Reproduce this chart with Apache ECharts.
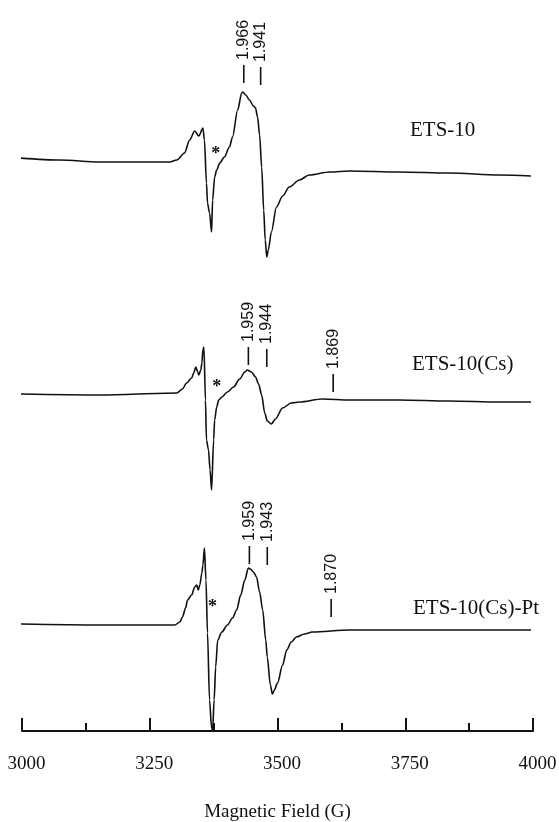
<!DOCTYPE html>
<html>
<head>
<meta charset="utf-8">
<script src="https://cdn.jsdelivr.net/npm/echarts@6/dist/echarts.min.js"></script>
<style>
  html, body { margin: 0; padding: 0; background: #fff; }
  #chart { width: 559px; height: 822px; }
</style>
</head>
<body>
<div id="chart"></div>
<script>
// X-band EPR spectra: derivative signal vs magnetic field (G)
const xTicks = [3000, 3250, 3500, 3750, 4000];

// ETS-10
const fieldA = [2996, 3074, 3152, 3230, 3289, 3303, 3318, 3328, 3338, 3346, 3354, 3357, 3361, 3363, 3367, 3371, 3373, 3377, 3381, 3387, 3396, 3406, 3412, 3422, 3430, 3432, 3438, 3445, 3453, 3457, 3461, 3465, 3469, 3473, 3476, 3479, 3482, 3488, 3498, 3510, 3523, 3543, 3562, 3602, 3641, 3738, 3836, 3934, 3996];
const signalA = [4, 2, 0, 0, 0, 2, 9, 22, 31, 26, 34, 22, -21, -41, -51, -70, -38, -15, -8, -1, 5, 15, 25, 52, 69, 70, 67, 62, 56, 54, 45, 27, -5, -48, -78, -95, -88, -70, -45, -34, -25, -18, -13, -10, -9, -10, -11, -13, -14];

// ETS-10(Cs)
const fieldB = [2996, 3152, 3303, 3314, 3322, 3332, 3336, 3340, 3344, 3346, 3350, 3352, 3354, 3356, 3359, 3361, 3365, 3368, 3371, 3375, 3377, 3381, 3385, 3391, 3402, 3414, 3426, 3436, 3441, 3449, 3457, 3463, 3469, 3475, 3480, 3488, 3496, 3510, 3527, 3543, 3588, 3641, 3738, 3836, 3934, 3996];
const signalB = [1, 0, 2, 6, 12, 17, 22, 28, 23, 20, 25, 32, 45, 48, -5, -45, -55, -75, -95, -45, -25, -12, -5, -2, 3, 8, 16, 23, 25, 23, 18, 11, 0, -18, -26, -29, -24, -13, -8, -7, -4, -5, -5, -6, -7, -7];

// ETS-10(Cs)-Pt
const fieldC = [2996, 3152, 3299, 3309, 3314, 3320, 3324, 3332, 3338, 3342, 3345, 3348, 3352, 3354, 3357, 3360, 3363, 3367, 3371, 3373, 3376, 3379, 3383, 3391, 3402, 3412, 3420, 3428, 3436, 3443, 3447, 3453, 3459, 3465, 3471, 3477, 3480, 3486, 3490, 3494, 3500, 3510, 3518, 3527, 3537, 3553, 3568, 3641, 3738, 3836, 3934, 3996];
const signalC = [1, 0, 0, 3, 8, 17, 25, 30, 38, 40, 35, 40, 52, 60, 77, 45, -8, -75, -103, -105, -75, -42, -15, -7, 0, 7, 15, 30, 45, 57, 56, 53, 48, 33, 15, -15, -32, -60, -69, -65, -58, -40, -25, -17, -12, -9, -7, -5, -5, -5, -5, -5];

const sampleNames = ['ETS-10', 'ETS-10(Cs)', 'ETS-10(Cs)-Pt'];

// g-value markers: label, field position (G), signal level at the marker foot
const gLabelsA = ['1.966', '1.941'];
const gFieldA = [3434, 3467];
const gLevelA = [79, 77];
const gLabelsB = ['1.959', '1.944', '1.869'];
const gFieldB = [3443, 3479, 3609];
const gLevelB = [30, 28, 3];
const gLabelsC = ['1.959', '1.943', '1.870'];
const gFieldC = [3445, 3480, 3605];
const gLevelC = [61, 60, 8];

// asterisk positions (field, level)
const starField = [3379, 3381, 3373];
const starLevel = [12, 12, 22];

// vertical stacking of the three traces (one y unit = one pixel)
const stackOffset = [569, 336, 106];

const ink = '#111';
const serif = '"Liberation Serif", "Times New Roman", serif';
const sans = '"Liberation Sans", Arial, sans-serif';

function traceData(fields, values, k) {
  return fields.map((f, i) => [f, values[i] + stackOffset[k]]);
}

const markerData = [];
[[gLabelsA, gFieldA, gLevelA], [gLabelsB, gFieldB, gLevelB], [gLabelsC, gFieldC, gLevelC]].forEach((set, k) => {
  set[0].forEach((lab, i) => markerData.push([set[1][i], set[2][i] + stackOffset[k], lab]));
});
const starData = starField.map((f, k) => [f, starLevel[k] + stackOffset[k]]);

const chart = echarts.init(document.getElementById('chart'), null, { renderer: 'canvas' });

function traceSeries(fields, values, k) {
  return {
    type: 'line',
    data: traceData(fields, values, k),
    showSymbol: false,
    smooth: 0.3,
    smoothMonotone: 'x',
    clip: false,
    lineStyle: { color: ink, width: 1.6 },
    silent: true,
    animation: false
  };
}

chart.setOption({
  animation: false,
  backgroundColor: '#fff',
  grid: { left: 22, right: 26, top: 0, bottom: 91, containLabel: false, outerBoundsMode: 'none' },
  xAxis: {
    type: 'value',
    min: xTicks[0],
    max: xTicks[xTicks.length - 1],
    interval: 250,
    name: 'Magnetic Field (G)',
    nameLocation: 'middle',
    nameGap: 72,
    nameTextStyle: { fontFamily: serif, fontSize: 19, color: ink },
    axisLine: { lineStyle: { color: ink, width: 2 } },
    axisTick: { inside: true, length: 13, lineStyle: { color: ink, width: 2 } },
    minorTick: { show: true, splitNumber: 2, length: 8, lineStyle: { color: ink, width: 2 } },
    splitLine: { show: false },
    minorSplitLine: { show: false },
    axisLabel: {
      margin: 24,
      fontFamily: serif,
      fontSize: 19,
      color: ink,
      padding: [0, 0, 0, 9],
      formatter: v => String(v)
    }
  },
  yAxis: { type: 'value', min: 0, max: 731, show: false },
  series: [
    traceSeries(fieldA, signalA, 0),
    traceSeries(fieldB, signalB, 1),
    traceSeries(fieldC, signalC, 2),
    {
      type: 'custom',
      data: markerData,
      clip: false,
      silent: true,
      renderItem: function (params, api) {
        const p = api.coord([api.value(0), api.value(1)]);
        const label = markerData[params.dataIndex][2];
        return {
          type: 'group',
          children: [
            { type: 'line', shape: { x1: p[0], y1: p[1], x2: p[0], y2: p[1] - 18 }, style: { stroke: ink, lineWidth: 1.6 } },
            { type: 'text', x: p[0], y: p[1] - 23, rotation: Math.PI / 2,
              style: { text: label, font: '16px ' + sans, fill: ink, align: 'left', verticalAlign: 'middle' } }
          ]
        };
      }
    },
    {
      type: 'custom',
      data: starData,
      clip: false,
      silent: true,
      renderItem: function (params, api) {
        const p = api.coord([api.value(0), api.value(1)]);
        return {
          type: 'text', x: p[0], y: p[1] + 4,
          style: { text: '*', font: 'bold 18px ' + serif, fill: ink, align: 'center', verticalAlign: 'middle' }
        };
      }
    }
  ],
  graphic: [
    { type: 'text', x: 410, y: 130, style: { text: sampleNames[0], font: '21px ' + serif, fill: ink, verticalAlign: 'middle' } },
    { type: 'text', x: 412, y: 364, style: { text: sampleNames[1], font: '21px ' + serif, fill: ink, verticalAlign: 'middle' } },
    { type: 'text', x: 413, y: 608, style: { text: sampleNames[2], font: '21px ' + serif, fill: ink, verticalAlign: 'middle' } }
  ]
});
</script>
</body>
</html>
